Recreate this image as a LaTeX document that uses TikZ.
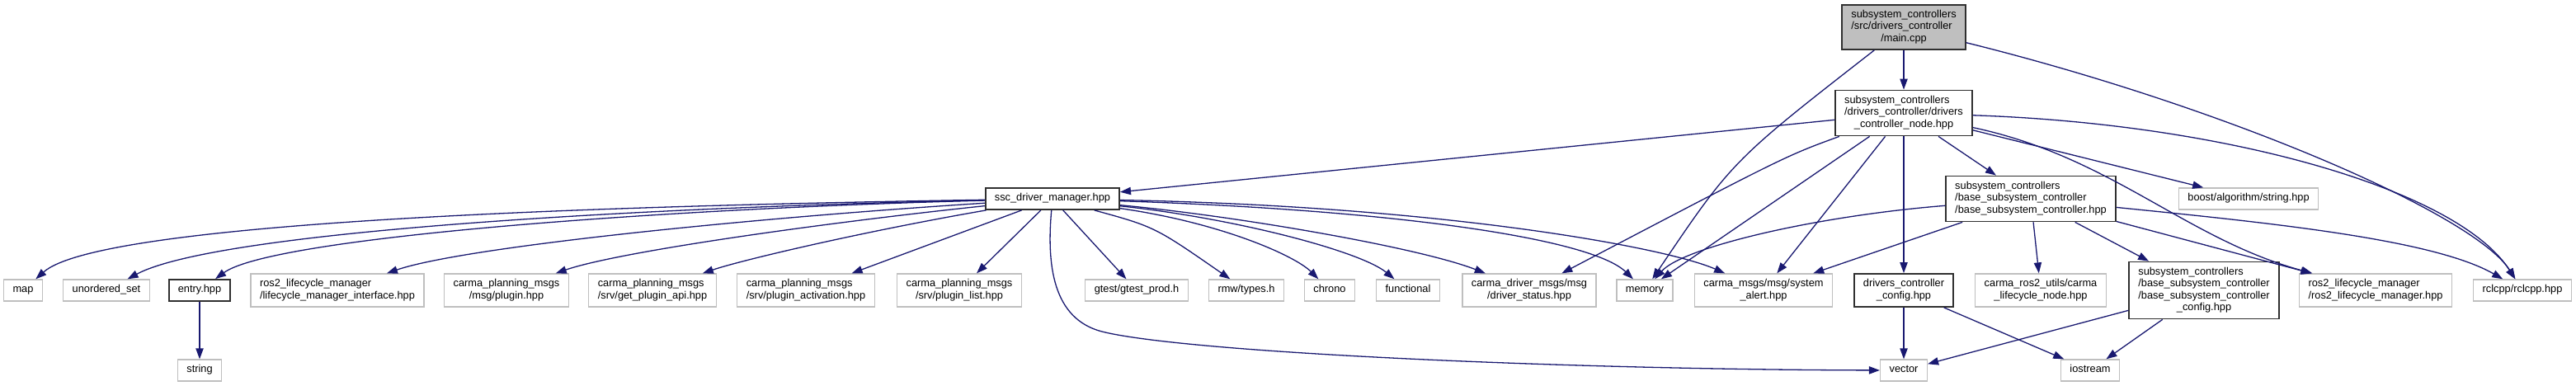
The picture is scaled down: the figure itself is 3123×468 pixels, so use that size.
\documentclass[tikz,border=0pt]{standalone}
\usepackage{fontspec}
\setmainfont{Liberation Sans}
\usetikzlibrary{arrows.meta}

\definecolor{mblue}{RGB}{25,25,112}
\definecolor{grayb}{RGB}{191,191,191}
\definecolor{grayd}{RGB}{48,48,48}

% 多行标签：前几行左对齐，最后一行居中
\newcommand{\hdrlbl}[2]{\begin{tabular}{@{}l@{}}#1\\\multicolumn{1}{@{}c@{}}{#2}\end{tabular}}

\begin{document}
\begin{tikzpicture}[
    x=1pt, y=-1pt,
    >={Triangle[length=13pt,width=9.3pt]},
    dep/.style={->, draw=mblue, line width=1.3pt},
    hdr/.style={draw=grayb, line width=1.3pt, fill=white, inner xsep=11pt, inner ysep=0pt,
      minimum height=26pt, font=\fontsize{12.8}{14.5}\selectfont, execute at begin node=\strut},
    src/.style={hdr, draw=grayd, line width=1.8pt},
    mainfile/.style={src, fill=grayb}
  ]
  \useasboundingbox (0,0) rectangle (3123,468);

  % 上层文件
  \node[mainfile, minimum height=54pt] (main) at (2308,33) {\hdrlbl{subsystem\_controllers\\/src/drivers\_controller}{/main.cpp}};
  \node[src, minimum height=55pt] (dcnode) at (2308,137) {\hdrlbl{subsystem\_controllers\\/drivers\_controller/drivers}{\_controller\_node.hpp}};
  \node[src] (ssc) at (1276,241) {ssc\_driver\_manager.hpp};
  \node[src, minimum height=55pt] (bsc) at (2462,241) {\hdrlbl{subsystem\_controllers\\/base\_subsystem\_controller}{/base\_subsystem\_controller.hpp}};
  \node[hdr] (boost) at (2726,241) {boost/algorithm/string.hpp};

  % 头文件一行
  \node[hdr] (map) at (28,352) {map};
  \node[hdr] (uset) at (129,352) {unordered\_set};
  \node[src] (entry) at (242,352) {entry.hpp};
  \node[hdr, minimum height=40pt] (lmif) at (409,352) {\hdrlbl{ros2\_lifecycle\_manager}{/lifecycle\_manager\_interface.hpp}};
  \node[hdr, minimum height=40pt] (plugin) at (614,352) {\hdrlbl{carma\_planning\_msgs}{/msg/plugin.hpp}};
  \node[hdr, minimum height=40pt] (getapi) at (791,352) {\hdrlbl{carma\_planning\_msgs}{/srv/get\_plugin\_api.hpp}};
  \node[hdr, minimum height=40pt] (pact) at (977,352) {\hdrlbl{carma\_planning\_msgs}{/srv/plugin\_activation.hpp}};
  \node[hdr, minimum height=40pt] (plist) at (1163,352) {\hdrlbl{carma\_planning\_msgs}{/srv/plugin\_list.hpp}};
  \node[hdr] (gtest) at (1378,352) {gtest/gtest\_prod.h};
  \node[hdr] (rmw) at (1511,352) {rmw/types.h};
  \node[hdr] (chrono) at (1612,352) {chrono};
  \node[hdr] (func) at (1707,352) {functional};
  \node[hdr, minimum height=40pt] (dstat) at (1854,352) {\hdrlbl{carma\_driver\_msgs/msg}{/driver\_status.hpp}};
  \node[hdr] (mem) at (1994,352) {memory};
  \node[hdr, minimum height=40pt] (alert) at (2138,352) {\hdrlbl{carma\_msgs/msg/system}{\_alert.hpp}};
  \node[src, minimum height=40pt] (dcfg) at (2308,352) {\hdrlbl{drivers\_controller}{\_config.hpp}};
  \node[hdr, minimum height=40pt] (cln) at (2474,352) {\hdrlbl{carma\_ros2\_utils/carma}{\_lifecycle\_node.hpp}};
  \node[src, minimum height=69pt] (bcfg) at (2672,352) {\hdrlbl{subsystem\_controllers\\/base\_subsystem\_controller\\/base\_subsystem\_controller}{\_config.hpp}};
  \node[hdr, minimum height=40pt] (rlm) at (2880,352) {\hdrlbl{ros2\_lifecycle\_manager}{/ros2\_lifecycle\_manager.hpp}};
  \node[hdr] (rcl) at (3058,352) {rclcpp/rclcpp.hpp};

  % 最下层
  \node[hdr] (str) at (242,449) {string};
  \node[hdr] (vec) at (2308,449) {vector};
  \node[hdr] (ios) at (2534,449) {iostream};

  % main.cpp 的依赖
  \draw[dep] (main) -- (dcnode);
  \draw[dep] (main) .. controls (2100,195) .. (mem);
  \draw[dep] (main) .. controls (2700,130) and (3000,260) .. (rcl);

  % drivers_controller_node.hpp 的依赖
  \draw[dep] (dcnode) -- (ssc);
  \draw[dep] (dcnode) .. controls (2165,189) .. (dstat);
  \draw[dep] (dcnode) -- (mem);
  \draw[dep] (dcnode) -- (alert);
  \draw[dep] (dcnode) -- (dcfg);
  \draw[dep] (dcnode) -- (bsc);
  \draw[dep] (dcnode) -- (boost);
  \draw[dep] (dcnode) .. controls (2560,190) and (2650,290) .. (rlm);
  \draw[dep] (dcnode) .. controls (2700,150) and (2980,230) .. (rcl);

  % ssc_driver_manager.hpp 的依赖
  \draw[dep] (ssc) .. controls (700,250) and (120,270) .. (map);
  \draw[dep] (ssc) .. controls (750,252) and (260,282) .. (uset);
  \draw[dep] (ssc) .. controls (800,253) and (330,288) .. (entry);
  \draw[dep] (ssc) .. controls (900,265) and (560,300) .. (lmif);
  \draw[dep] (ssc) .. controls (1000,270) and (750,305) .. (plugin);
  \draw[dep] (ssc) .. controls (1050,280) and (900,315) .. (getapi);
  \draw[dep] (ssc) -- (pact);
  \draw[dep] (ssc) -- (plist);
  \draw[dep] (ssc) .. controls (1268,330) and (1280,390) .. (1340,403)
    .. controls (1450,428) and (1900,448) .. (vec);
  \draw[dep] (ssc) -- (gtest);
  \draw[dep] (ssc) .. controls (1400,275) .. (rmw);
  \draw[dep] (ssc) .. controls (1480,270) and (1570,310) .. (chrono);
  \draw[dep] (ssc) .. controls (1500,265) and (1650,305) .. (func);
  \draw[dep] (ssc) .. controls (1500,262) and (1720,300) .. (dstat);
  \draw[dep] (ssc) .. controls (1700,255) and (1930,290) .. (mem);
  \draw[dep] (ssc) .. controls (1750,250) and (2020,300) .. (alert);

  % base_subsystem_controller.hpp 的依赖
  \draw[dep] (bsc) .. controls (2200,262) and (2040,300) .. (mem);
  \draw[dep] (bsc) -- (alert);
  \draw[dep] (bsc) -- (cln);
  \draw[dep] (bsc) -- (bcfg);
  \draw[dep] (bsc) -- (rlm);
  \draw[dep] (bsc) .. controls (2750,270) and (2950,290) .. (rcl);

  % 配置头文件
  \draw[dep] (dcfg) -- (vec);
  \draw[dep] (dcfg) -- (ios);
  \draw[dep] (bcfg) -- (vec);
  \draw[dep] (bcfg) -- (ios);
  \draw[dep] (entry) -- (str);

\end{tikzpicture}
\end{document}
